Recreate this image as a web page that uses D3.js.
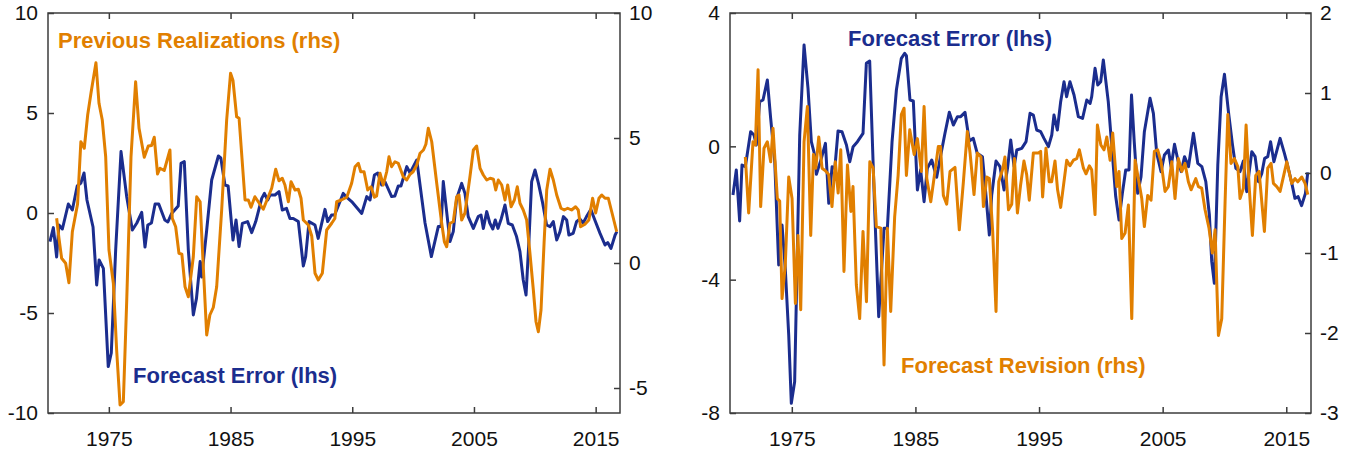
<!DOCTYPE html>
<html>
<head>
<meta charset="utf-8">
<script src="https://cdn.jsdelivr.net/npm/d3@7"></script>
<style>
  body { margin: 0; background: #fff; }
  text { font-family: "Liberation Sans", Arial, Helvetica, sans-serif; }
</style>
</head>
<body>
<script>
// Two panels: forecast error vs previous realizations, forecast error vs forecast revision

const w = 1346;
const h = 449;

// x ticks shared by both panels
const year_ticks = [1975, 1985, 1995, 2005, 2015];

// left panel ticks
const left_lhs_ticks = [-10, -5, 0, 5, 10];
const left_rhs_ticks = [-5, 0, 5, 10];
// right panel ticks
const right_lhs_ticks = [-8, -4, 0, 4];
const right_rhs_ticks = [-3, -2, -1, 0, 1, 2];

// [year, value]
const left_forecast_error = [
  [1970.16,-1.43],[1970.44,-0.73],[1970.71,-2.2],[1970.9,-0.6],[1971.18,-0.8],[1971.67,0.45],
  [1972.0,0.15],[1972.4,1.35],[1972.7,1.5],[1972.96,2.0],[1973.2,0.65],[1973.7,-0.7],
  [1974.0,-3.6],[1974.2,-2.35],[1974.55,-2.77],[1974.95,-7.68],[1975.2,-7.0],[1975.56,-1.85],
  [1976.0,3.07],[1976.47,0.8],[1976.93,-0.85],[1977.3,-0.5],[1977.7,0.03],[1977.97,-1.7],
  [1978.2,-0.6],[1978.5,-0.5],[1978.8,0.45],[1979.1,0.45],[1979.6,-0.35],[1979.85,-0.45],
  [1980.16,-0.02],[1980.7,0.35],[1980.93,2.48],[1981.2,2.57],[1981.53,-1.85],[1981.94,-5.1],
  [1982.2,-4.27],[1982.5,-2.43],[1982.63,-3.2],[1983.04,-0.85],[1983.45,1.65],[1984.0,2.85],
  [1984.2,2.75],[1984.54,1.4],[1984.8,1.35],[1985.2,-1.35],[1985.45,-0.35],[1985.7,-1.68],
  [1985.97,-0.52],[1986.4,-0.43],[1986.74,-0.98],[1987.07,-0.43],[1987.56,0.73],[1987.78,0.98],
  [1988.05,0.65],[1988.24,0.9],[1988.65,0.9],[1988.98,1.07],[1989.25,0.15],[1989.6,0.23],
  [1989.88,-0.27],[1990.15,-0.27],[1990.57,-0.43],[1990.98,-2.65],[1991.17,-2.18],[1991.45,-0.43],
  [1991.94,-0.6],[1992.2,-1.27],[1992.76,0.18],[1992.98,-0.43],[1993.3,-0.1],[1993.55,-0.1],
  [1994.26,0.98],[1994.55,0.78],[1994.95,0.57],[1995.78,-0.02],[1996.19,0.82],[1996.46,0.65],
  [1996.82,1.9],[1997.1,2.0],[1997.42,1.4],[1997.7,1.55],[1998.24,0.82],[1998.5,0.85],
  [1998.78,1.35],[1999.0,1.35],[1999.48,2.32],[1999.75,2.0],[2000.3,2.65],[2000.98,-0.5],
  [2001.5,-2.18],[2002.07,-0.68],[2002.3,-0.68],[2002.48,1.57],[2002.68,0.48],[2003.03,-1.43],
  [2003.3,-0.93],[2003.58,0.73],[2003.99,1.48],[2004.26,0.98],[2004.53,-0.18],[2004.95,-0.77],
  [2005.35,-0.18],[2005.58,-0.1],[2005.77,-0.77],[2006.05,0.07],[2006.3,-0.5],[2006.55,-0.8],
  [2006.75,-0.35],[2006.97,-0.77],[2007.25,-0.27],[2007.55,0.4],[2007.82,-0.52],[2008.15,-0.6],
  [2008.5,-1.18],[2008.78,-1.93],[2009.05,-3.35],[2009.28,-4.1],[2009.52,-1.35],[2009.74,1.57],
  [2010.02,2.15],[2010.3,1.48],[2010.62,0.57],[2010.97,-0.6],[2011.25,-0.68],[2011.52,-0.43],
  [2011.8,-1.35],[2012.07,-0.93],[2012.35,-0.18],[2012.62,-0.35],[2012.8,-1.1],[2013.15,-1.02],
  [2013.43,-0.43],[2013.7,-0.3],[2013.97,-0.5],[2014.25,-0.18],[2014.6,0.18],[2014.93,-0.35],
  [2015.36,-1.02],[2015.77,-1.6],[2015.99,-1.48],[2016.26,-1.77],[2016.6,-1.1],[2016.74,-0.93]
];

const previous_realizations = [
  [1970.71,1.79],[1970.9,0.99],[1971.12,0.19],[1971.45,-0.01],[1971.72,-0.79],[1972.0,1.25],
  [1972.43,2.36],[1972.7,4.85],[1972.98,4.59],[1973.26,5.92],[1973.53,6.79],[1973.94,8.01],
  [1974.19,6.39],[1974.46,5.72],[1974.74,4.25],[1975.01,0.52],[1975.37,-0.81],[1975.64,-3.48],
  [1975.92,-5.68],[1976.19,-5.55],[1976.47,-1.48],[1976.82,4.25],[1977.2,7.25],[1977.48,5.39],
  [1977.91,4.23],[1978.24,4.68],[1978.51,4.7],[1978.73,5.03],[1979.0,3.56],[1979.2,3.79],
  [1979.55,3.7],[1980.02,4.52],[1980.21,1.79],[1980.49,1.45],[1980.76,0.39],[1981.0,0.35],
  [1981.26,-0.95],[1981.53,-1.35],[1981.94,0.25],[1982.22,2.65],[1982.5,2.45],[1982.76,-0.15],
  [1983.04,-2.88],[1983.3,-2.08],[1983.58,-1.78],[1983.86,-0.95],[1984.27,2.12],[1984.68,5.72],
  [1985.0,7.59],[1985.2,7.3],[1985.5,5.85],[1985.7,5.79],[1986.19,2.52],[1986.46,2.52],
  [1986.68,2.23],[1987.0,2.65],[1987.69,2.15],[1988.38,2.99],[1988.71,3.75],[1988.98,3.29],
  [1989.25,3.39],[1989.47,3.12],[1989.75,2.45],[1989.97,3.25],[1990.3,2.92],[1990.57,2.95],
  [1990.79,2.59],[1990.98,1.72],[1991.39,1.52],[1991.67,1.08],[1991.94,-0.41],[1992.21,-0.68],
  [1992.54,-0.41],[1992.9,1.32],[1993.31,1.59],[1993.57,1.78],[1993.72,2.45],[1994.1,2.52],
  [1994.55,2.63],[1994.95,3.19],[1995.23,3.85],[1995.5,3.99],[1995.7,3.65],[1995.97,3.65],
  [1996.27,2.92],[1996.54,3.05],[1996.82,2.63],[1997.0,2.68],[1997.28,3.59],[1997.55,3.12],
  [1997.83,3.65],[1998.02,4.25],[1998.23,3.85],[1998.51,4.05],[1998.78,3.99],[1999.19,3.45],
  [1999.47,3.32],[1999.75,3.55],[2000.0,3.65],[2000.3,3.92],[2000.57,4.39],[2000.85,4.52],
  [2001.05,4.75],[2001.25,5.39],[2001.53,4.85],[2001.94,3.19],[2002.35,1.59],[2002.57,0.85],
  [2002.76,0.65],[2003.03,1.59],[2003.3,1.65],[2003.58,2.65],[2003.77,2.72],[2003.99,1.72],
  [2004.26,2.0],[2004.67,3.45],[2004.95,4.52],[2005.22,4.68],[2005.5,3.79],[2005.77,3.52],
  [2006.05,3.32],[2006.33,3.39],[2006.6,3.35],[2006.79,2.92],[2007.0,3.32],[2007.28,3.12],
  [2007.55,2.52],[2007.77,3.12],[2008.05,2.25],[2008.32,2.52],[2008.56,3.05],[2008.78,2.39],
  [2009.05,2.12],[2009.33,1.72],[2009.6,0.39],[2009.88,-1.08],[2010.1,-2.35],[2010.29,-2.75],
  [2010.51,-1.88],[2010.76,0.79],[2010.98,2.92],[2011.25,3.75],[2011.52,3.32],[2011.8,2.72],
  [2012.15,2.19],[2012.42,2.12],[2012.7,2.19],[2013.02,2.12],[2013.35,2.25],[2013.57,2.12],
  [2013.76,1.45],[2014.12,1.55],[2014.44,1.72],[2014.75,2.59],[2015.0,2.0],[2015.27,2.59],
  [2015.5,2.72],[2015.77,2.59],[2016.04,2.59],[2016.32,2.05],[2016.73,1.25]
];

const right_forecast_error = [
  [1970.24,-1.46],[1970.51,-0.71],[1970.78,-2.24],[1970.97,-0.56],[1971.24,-0.61],[1971.67,0.44],
  [1971.94,0.34],[1972.13,0.04],[1972.4,1.34],[1972.67,1.39],[1973.02,1.99],[1973.29,0.84],
  [1973.62,-0.46],[1973.94,-3.56],[1974.21,-2.36],[1974.47,-3.66],[1974.75,-5.66],[1974.96,-7.71],
  [1975.23,-7.06],[1975.64,0.34],[1975.99,3.04],[1976.31,1.74],[1976.58,0.14],[1976.85,-0.26],
  [1976.99,-0.84],[1977.39,-0.36],[1977.72,0.09],[1977.99,-1.71],[1978.26,-0.61],[1978.48,-0.66],
  [1978.74,0.46],[1979.06,0.44],[1979.42,0.04],[1979.69,-0.46],[1979.96,-0.01],[1980.31,0.14],
  [1980.76,0.39],[1981.03,2.49],[1981.3,2.56],[1981.7,-1.86],[1982.03,-5.11],[1982.46,-2.46],
  [1982.73,-2.46],[1983.11,0.14],[1983.46,1.69],[1983.86,2.64],[1984.13,2.79],[1984.27,2.72],
  [1984.56,1.39],[1984.83,1.36],[1985.16,-1.31],[1985.42,-0.7],[1985.7,-1.66],[1985.96,-0.66],
  [1986.32,-0.41],[1986.72,-0.93],[1987.05,-0.26],[1987.39,0.39],[1987.74,1.02],[1988.07,0.64],
  [1988.4,0.89],[1988.66,0.89],[1989.01,1.02],[1989.36,0.16],[1989.68,0.24],[1990.0,-0.21],
  [1990.42,-0.31],[1990.68,-1.36],[1990.98,-2.66],[1991.17,-1.46],[1991.52,-0.44],[1991.84,-0.61],
  [1992.17,-1.31],[1992.45,-0.66],[1992.71,0.19],[1992.98,-0.61],[1993.2,-0.11],[1993.6,-0.06],
  [1993.95,0.14],[1994.27,0.99],[1994.54,0.94],[1994.81,0.49],[1995.13,0.44],[1995.4,0.24],
  [1995.76,-0.01],[1996.03,0.34],[1996.21,0.94],[1996.48,0.49],[1996.75,1.34],[1997.02,1.94],
  [1997.23,1.49],[1997.5,1.94],[1997.83,1.54],[1998.18,0.89],[1998.52,0.84],[1998.86,1.39],
  [1999.13,1.29],[1999.26,1.49],[1999.53,2.34],[1999.75,1.84],[1999.99,1.94],[2000.2,2.59],
  [2000.6,1.34],[2000.96,-0.36],[2001.2,-1.5],[2001.47,-2.21],[2001.74,-1.41],[2002.01,-0.71],
  [2002.28,-0.71],[2002.48,1.54],[2002.7,0.14],[2002.98,-1.41],[2003.25,-0.91],[2003.52,0.44],
  [2003.98,1.44],[2004.25,0.99],[2004.52,-0.21],[2004.87,-0.76],[2005.14,-0.26],[2005.47,-0.11],
  [2005.68,-0.61],[2005.96,0.06],[2006.23,-0.41],[2006.5,-0.76],[2006.77,-0.31],[2007.09,-0.61],
  [2007.49,0.39],[2007.84,-0.51],[2008.17,-0.61],[2008.49,-1.06],[2008.78,-2.06],[2008.97,-3.46],
  [2009.18,-4.11],[2009.46,-0.56],[2009.73,1.49],[2010.0,2.16],[2010.32,1.04],[2010.65,0.04],
  [2010.92,-0.66],[2011.26,-0.76],[2011.53,-0.44],[2011.8,-1.36],[2012.21,-0.16],[2012.48,-0.31],
  [2012.75,-1.06],[2013.02,-0.81],[2013.25,-0.36],[2013.5,-0.31],[2013.73,0.14],[2014.0,-0.46],
  [2014.5,0.24],[2014.85,-0.21],[2015.1,-0.56],[2015.45,-1.11],[2015.7,-1.56],[2015.96,-1.51],
  [2016.24,-1.78],[2016.55,-1.41],[2016.74,-0.78]
];

const forecast_revision = [
  [1971.24,0.2],[1971.51,-0.5],[1971.86,0.39],[1972.05,0.35],[1972.27,1.29],[1972.48,-0.42],
  [1972.75,0.31],[1973.02,0.39],[1973.29,0.14],[1973.48,0.56],[1973.83,-0.32],[1974.02,-0.35],
  [1974.21,-1.57],[1974.47,-1.15],[1974.75,-0.05],[1975.02,-0.32],[1975.29,-1.63],[1975.5,-0.78],
  [1975.72,-1.71],[1975.99,0.39],[1976.26,0.83],[1976.53,-0.78],[1976.75,0.23],[1976.94,0.06],
  [1977.18,0.45],[1977.45,0.06],[1977.7,0.03],[1977.98,-0.02],[1978.25,-0.42],[1978.52,0.14],
  [1978.75,-0.25],[1978.96,0.29],[1979.22,-1.23],[1979.5,0.1],[1979.78,-0.48],[1979.95,-0.17],
  [1980.22,-1.4],[1980.49,-1.82],[1980.76,-0.73],[1981.04,-1.61],[1981.31,0.14],[1981.58,0.06],
  [1981.84,-0.67],[1982.2,-0.69],[1982.46,-2.4],[1982.73,-0.69],[1983.0,-1.73],[1983.32,-0.55],
  [1983.6,-0.03],[1983.86,0.73],[1984.08,0.81],[1984.27,-0.03],[1984.54,0.54],[1984.9,0.23],
  [1985.16,0.43],[1985.48,0.02],[1985.7,0.83],[1985.92,-0.07],[1986.24,-0.36],[1986.6,0.04],
  [1986.85,0.33],[1987.03,0.33],[1987.26,-0.28],[1987.53,-0.39],[1987.8,0.02],[1988.2,0.07],
  [1988.55,-0.71],[1988.88,-0.11],[1989.2,0.52],[1989.42,0.25],[1989.74,-0.27],[1990.0,0.25],
  [1990.3,0.2],[1990.5,-0.42],[1990.77,-0.05],[1990.98,-0.07],[1991.25,-0.73],[1991.52,-1.73],
  [1991.74,-0.11],[1992.06,0.05],[1992.24,0.2],[1992.53,-0.46],[1992.79,-0.39],[1993.01,0.18],
  [1993.25,-0.5],[1993.5,-0.16],[1993.78,0.15],[1994.0,-0.02],[1994.21,-0.34],[1994.54,0.25],
  [1994.94,0.25],[1995.13,0.27],[1995.29,-0.3],[1995.56,0.31],[1995.83,-0.11],[1996.02,-0.11],
  [1996.29,0.15],[1996.5,-0.21],[1996.75,-0.43],[1997.24,0.16],[1997.5,0.09],[1997.78,0.16],
  [1998.05,0.18],[1998.26,0.29],[1998.59,0.06],[1998.8,-0.01],[1999.07,0.09],[1999.26,0.04],
  [1999.53,-0.52],[1999.72,0.6],[2000.0,0.35],[2000.26,0.29],[2000.48,0.45],[2000.75,0.16],
  [2000.96,0.5],[2001.29,-0.17],[2001.47,0.02],[2001.69,-0.82],[2001.96,-0.75],[2002.23,-0.4],
  [2002.5,-1.82],[2002.77,0.16],[2003.03,-0.07],[2003.31,-0.32],[2003.52,-0.67],[2003.79,-0.28],
  [2004.06,-0.34],[2004.33,0.27],[2004.6,0.29],[2004.87,0.14],[2005.19,-0.23],[2005.46,-0.17],
  [2005.74,0.14],[2006.0,-0.32],[2006.27,0.18],[2006.55,0.02],[2006.81,0.12],[2007.08,-0.11],
  [2007.3,-0.21],[2007.68,-0.07],[2007.89,-0.17],[2008.16,-0.19],[2008.43,-0.46],[2008.75,-0.69],
  [2009.02,-1.0],[2009.24,-0.71],[2009.51,-2.03],[2009.78,-1.82],[2010.05,-0.36],[2010.27,0.73],
  [2010.53,0.12],[2010.8,0.18],[2011.08,0.08],[2011.26,-0.32],[2011.53,-0.19],[2011.75,0.6],
  [2011.99,-0.15],[2012.26,-0.78],[2012.53,-0.03],[2012.8,0.02],[2013.23,-0.73],[2013.5,0.06],
  [2013.77,0.12],[2013.96,-0.13],[2014.23,-0.17],[2014.5,-0.23],[2015.04,0.14],[2015.44,-0.13],
  [2015.71,-0.07],[2015.93,-0.11],[2016.25,-0.05],[2016.52,-0.13],[2016.74,-0.27]
];

const blue = "#1b2d8e";
const orange = "#e17f00";
const axis_color = "#3c3c3c";

// plain hyphen for negatives, like the original
const num = d => String(d);

const svg = d3.select("body")
  .append("svg")
  .attr("width", w)
  .attr("height", h);

function drawPanel(p) {
  const x_scale = d3.scaleLinear().domain([1970, 2017]).range([p.x0, p.x1]);
  const y_lhs = d3.scaleLinear().domain(p.lhs_domain).range([p.y1, p.y0]);
  const y_rhs = d3.scaleLinear().domain(p.rhs_domain).range([p.y1, p.y0]);

  const g = svg.append("g");

  // lines: lhs series first, rhs on top
  const line_lhs = d3.line().x(d => x_scale(d[0])).y(d => y_lhs(d[1]));
  const line_rhs = d3.line().x(d => x_scale(d[0])).y(d => y_rhs(d[1]));

  g.append("path")
    .datum(p.lhs_data)
    .attr("d", line_lhs)
    .attr("fill", "none")
    .attr("stroke", blue)
    .attr("stroke-width", 3)
    .attr("stroke-linejoin", "round");

  g.append("path")
    .datum(p.rhs_data)
    .attr("d", line_rhs)
    .attr("fill", "none")
    .attr("stroke", orange)
    .attr("stroke-width", 3)
    .attr("stroke-linejoin", "round");

  // axes, ticks pointing inward
  const style = sel => {
    sel.select(".domain").remove();
    sel.selectAll("line").attr("stroke", axis_color).attr("stroke-width", 1.5);
    sel.selectAll("text").attr("fill", "#111").style("font-size", "21px");
  };

  g.append("g")
    .attr("transform", `translate(0,${p.y1})`)
    .call(d3.axisBottom(x_scale).tickValues(year_ticks).tickFormat(num)
      .tickSize(-6).tickPadding(18))
    .call(style);

  g.append("g")
    .attr("transform", `translate(0,${p.y0})`)
    .call(d3.axisTop(x_scale).tickValues(year_ticks).tickFormat("").tickSize(-6))
    .call(style);

  g.append("g")
    .attr("transform", `translate(${p.x0},0)`)
    .call(d3.axisLeft(y_lhs).tickValues(p.lhs_ticks).tickFormat(num).tickSize(-6).tickPadding(10))
    .call(style);

  g.append("g")
    .attr("transform", `translate(${p.x1},0)`)
    .call(d3.axisRight(y_rhs).tickValues(p.rhs_ticks).tickFormat(num).tickSize(-6).tickPadding(9))
    .call(style);

  // frame
  g.append("rect")
    .attr("x", p.x0)
    .attr("y", p.y0)
    .attr("width", p.x1 - p.x0)
    .attr("height", p.y1 - p.y0)
    .attr("fill", "none")
    .attr("stroke", axis_color)
    .attr("stroke-width", 1.5);

  // series labels
  p.labels.forEach(l => {
    g.append("text")
      .attr("x", l.x)
      .attr("y", l.y)
      .attr("fill", l.color)
      .style("font-size", "22px")
      .style("font-weight", "bold")
      .text(l.text);
  });
}

drawPanel({
  x0: 48, x1: 620, y0: 13, y1: 413,
  lhs_domain: [-10, 10], rhs_domain: [-6, 10],
  lhs_ticks: left_lhs_ticks, rhs_ticks: left_rhs_ticks,
  lhs_data: left_forecast_error, rhs_data: previous_realizations,
  labels: [
    { text: "Previous Realizations (rhs)", x: 58, y: 48, color: orange },
    { text: "Forecast Error (lhs)", x: 133, y: 383, color: blue }
  ]
});

drawPanel({
  x0: 730, x1: 1311, y0: 13, y1: 413,
  lhs_domain: [-8, 4], rhs_domain: [-3, 2],
  lhs_ticks: right_lhs_ticks, rhs_ticks: right_rhs_ticks,
  lhs_data: right_forecast_error, rhs_data: forecast_revision,
  labels: [
    { text: "Forecast Error (lhs)", x: 848, y: 46, color: blue },
    { text: "Forecast Revision (rhs)", x: 901, y: 373, color: orange }
  ]
});
</script>
</body>
</html>
